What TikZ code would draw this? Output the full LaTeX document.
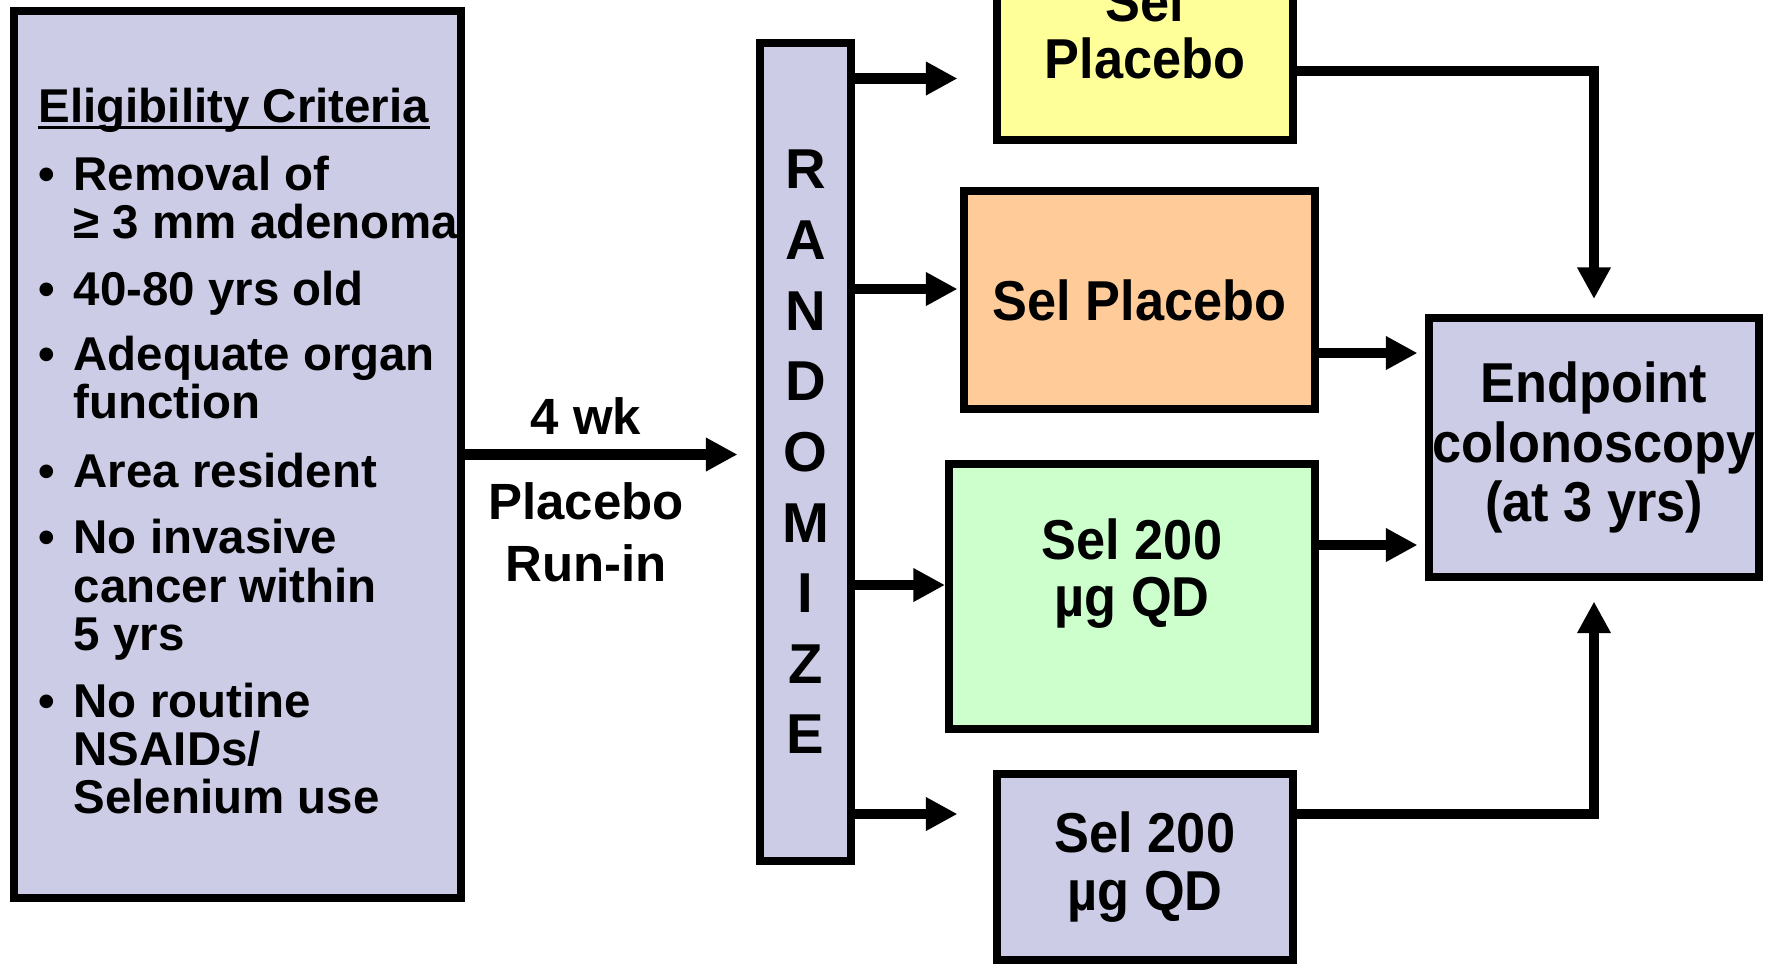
\documentclass[tikz,border=0pt]{standalone}
\usepackage{fontspec}
\setmainfont{Liberation Sans}
\newfontfamily\narrowsans{Liberation Sans}[FakeStretch=0.93]
\usetikzlibrary{arrows.meta,calc}
\definecolor{armlav}{RGB}{204,204,230}
\definecolor{armyellow}{RGB}{255,255,153}
\definecolor{armorange}{RGB}{255,204,153}
\definecolor{armgreen}{RGB}{204,255,204}

\begin{document}
\begin{tikzpicture}[
 armbox/.style={draw,line width=2.28pt,inner sep=0pt,align=center,
  font=\narrowsans\bfseries\fontsize{16}{16.4}\selectfont},
 crit/.style={anchor=base west,inner sep=0pt,
  font=\bfseries\fontsize{13.5}{13.7}\selectfont},
 runlbl/.style={inner sep=0pt,align=center,
  font=\bfseries\fontsize{14.5}{17.6}\selectfont},
 flow/.style={-{Triangle[length=9pt,width=9pt]},line width=3.1pt}]
\useasboundingbox (0,0) rectangle (17.72,-9.66);
\clip (0,0) rectangle (17.72,-9.66);
% eligibility box
\node[armbox,fill=armlav,minimum width=4.47cm,minimum height=8.87cm] (elig) at (2.375,-4.545) {};
\node[crit] (hdr) at (0.38,-1.22) {Eligibility Criteria};
\draw[line width=1pt] ([yshift=-1.5pt]hdr.base west) -- ([yshift=-1.5pt]hdr.base east);
\foreach \n/\y in {1/1.90,2/3.05,3/3.70,4/4.87,5/5.53,6/7.17}
 \node[crit] (dot\n) at (0.38,-\y) {\textbullet};
\foreach \n/\y/\txt in {1/1.90/{Removal of},2/2.38/{≥ 3 mm adenoma},3/3.05/{40-80 yrs old},
 4/3.70/{Adequate organ},5/4.18/{function},6/4.87/{Area resident},7/5.53/{No invasive},
 8/6.02/{cancer within},9/6.50/{5 yrs},10/7.17/{No routine},11/7.65/{NSAIDs/},12/8.13/{Selenium use}}
 \node[crit] (crit\n) at (0.73,-\y) {\txt};
% randomisation and arms
\node[armbox,fill=armlav,minimum width=0.91cm,minimum height=8.18cm,
 font=\bfseries\fontsize{16}{20.1}\selectfont] (rand) at (8.055,-4.52) {R\\A\\N\\D\\O\\M\\I\\Z\\E};
\node[armbox,fill=armyellow,minimum width=2.96cm,minimum height=2.20cm] (ylw) at (11.45,-0.30) {Sel\\Placebo};
\node[armbox,fill=armorange,minimum width=3.51cm,minimum height=2.18cm] (org) at (11.395,-3.00) {Sel Placebo};
\node[armbox,fill=armgreen,minimum width=3.66cm,minimum height=2.65cm] (grn) at (11.32,-5.965) {Sel 200\\µg QD\\\mbox{}};
\node[armbox,fill=armlav,minimum width=2.96cm,minimum height=1.86cm] (prp) at (11.45,-8.67) {Sel 200\\µg QD};
\node[armbox,fill=armlav,minimum width=3.30cm,minimum height=2.59cm,
 font=\narrowsans\bfseries\fontsize{16}{16.9}\selectfont] (endp) at (15.94,-4.475) {Endpoint\\colonoscopy\\(at 3 yrs)};
% run-in
\node[runlbl] (wk) at (5.86,-4.16) {4 wk};
\node[runlbl] (runin) at (5.86,-5.32) {Placebo\\Run-in};
\draw[flow,shorten >=0.185cm] (elig.east) -- (elig.east -| rand.west);
\coordinate (toylw) at (0,-0.785);
\coordinate (toorg) at (0,-2.89);
\coordinate (togrn) at (0,-5.85);
\coordinate (toprp) at (0,-8.14);
\coordinate (fromylw) at (0,-0.71);
\coordinate (fromorg) at (0,-3.53);
\coordinate (fromgrn) at (0,-5.45);
\draw[flow,shorten >=0.355cm] (rand.east |- toylw) -- (ylw.west |- toylw);
\draw[flow,shorten >=0.025cm] (rand.east |- toorg) -- (org.west |- toorg);
\draw[flow] (rand.east |- togrn) -- (grn.west |- togrn);
\draw[flow,shorten >=0.355cm] (rand.east |- toprp) -- (prp.west |- toprp);
\draw[flow,shorten >=0.15cm] (ylw.east |- fromylw) -| (endp.north);
\draw[flow,shorten >=0.075cm] (org.east |- fromorg) -- (endp.west |- fromorg);
\draw[flow,shorten >=0.075cm] (grn.east |- fromgrn) -- (endp.west |- fromgrn);
\draw[flow,shorten >=0.205cm] (prp.east |- toprp) -| (endp.south);
\end{tikzpicture}
\end{document}
